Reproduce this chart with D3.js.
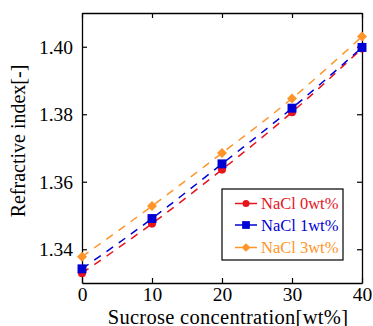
<!DOCTYPE html>
<html>
<head>
<meta charset="utf-8">
<script src="https://cdn.jsdelivr.net/npm/d3@7"></script>
<style>
  body { margin: 0; background: #fff; }
</style>
</head>
<body>
<svg id="chart" width="373" height="326"></svg>
<script>
// sucrose concentration [wt%]
const sucrose = [0, 10, 20, 30, 40];
const nacl0 = [1.3329, 1.3476, 1.3636, 1.3806, 1.3995];
const nacl1 = [1.3342, 1.3491, 1.3653, 1.3818, 1.3998];
const nacl3 = [1.3378, 1.3528, 1.3685, 1.3847, 1.4030];
const seriesNames = ['NaCl 0wt%', 'NaCl 1wt%', 'NaCl 3wt%'];
const xTicks = [0, 10, 20, 30, 40];
const yTicks = [1.34, 1.36, 1.38, 1.40];

const width = 373;
const height = 326;
const margin = {top: 13, right: 11, bottom: 43, left: 82};
const serif = '"Liberation Serif", serif';

const colors = ['#e8141c', '#0000d4', '#ff9428'];
const symbols = [d3.symbolCircle, d3.symbolSquare, d3.symbolSquare];
const symSize = [52, 80, 50];
const symRotate = [0, 0, 45];

const svg = d3.select('#chart');

const x = d3.scaleLinear()
  .domain([0, 40])
  .range([margin.left, width - margin.right]);

const y = d3.scaleLinear()
  .domain([1.33, 1.41])
  .range([height - margin.bottom, margin.top]);

const series = [nacl0, nacl1, nacl3].map((vals, i) => ({
  name: seriesNames[i],
  color: colors[i],
  symbol: symbols[i],
  size: symSize[i],
  rot: symRotate[i],
  values: vals.map((v, j) => ({x: sucrose[j], y: v}))
}));

// axes (ticks pointing inward, box on all sides)
const tickLen = 5;
svg.append('g')
  .attr('transform', `translate(0,${height - margin.bottom})`)
  .call(d3.axisBottom(x).tickValues(xTicks).tickSize(-tickLen).tickPadding(4).tickSizeOuter(0));

svg.append('g')
  .attr('transform', `translate(0,${margin.top})`)
  .call(d3.axisTop(x).tickValues(xTicks).tickSize(-tickLen).tickFormat('').tickSizeOuter(0));

svg.append('g')
  .attr('transform', `translate(${margin.left},0)`)
  .call(d3.axisLeft(y).tickValues(yTicks).tickFormat(d3.format('.2f')).tickSize(-tickLen).tickPadding(9).tickSizeOuter(0));

svg.append('g')
  .attr('transform', `translate(${width - margin.right},0)`)
  .call(d3.axisRight(y).tickValues(yTicks).tickFormat('').tickSize(-tickLen).tickSizeOuter(0));

svg.selectAll('.tick text')
  .attr('fill', '#000')
  .style('font-family', serif)
  .style('font-size', '19.5px');
svg.selectAll('.domain').attr('stroke', '#000').attr('stroke-width', 1.3);
svg.selectAll('.tick line').attr('stroke', '#000').attr('stroke-width', 1.2);

// dashed lines
const line = d3.line()
  .x(d => x(d.x))
  .y(d => y(d.y))
  .curve(d3.curveNatural);

svg.append('g').selectAll('path')
  .data(series)
  .join('path')
  .attr('d', d => line(d.values))
  .attr('fill', 'none')
  .attr('stroke', d => d.color)
  .attr('stroke-width', 1.5)
  .attr('stroke-dasharray', '8,7');

// markers
series.forEach(s => {
  svg.append('g').selectAll('path')
    .data(s.values)
    .join('path')
    .attr('transform', d => `translate(${x(d.x)},${y(d.y)}) rotate(${s.rot})`)
    .attr('d', d3.symbol().type(s.symbol).size(s.size))
    .attr('fill', s.color);
});

// legend
const legend = svg.append('g');
legend.append('rect')
  .attr('x', 222).attr('y', 189)
  .attr('width', 121).attr('height', 71)
  .attr('fill', '#fff').attr('stroke', '#000').attr('stroke-width', 1.2);

const rowY = [203.5, 225, 247.5];
series.forEach((s, i) => {
  const g = legend.append('g').attr('transform', `translate(0,${rowY[i]})`);
  g.append('line')
    .attr('x1', 235).attr('x2', 257)
    .attr('stroke', s.color).attr('stroke-width', 1.5);
  g.append('path')
    .attr('transform', `translate(246,0) rotate(${s.rot})`)
    .attr('d', d3.symbol().type(s.symbol).size(s.size * 0.75))
    .attr('fill', s.color);
  g.append('text')
    .attr('x', 261).attr('y', 5.5)
    .attr('fill', s.color)
    .style('font-family', serif)
    .style('font-size', '16.5px')
    .text(s.name);
});

// axis titles
svg.append('text')
  .attr('x', 228).attr('y', 323.5)
  .attr('text-anchor', 'middle')
  .style('font-family', serif)
  .style('font-size', '20.5px')
  .style('letter-spacing', '0.3px')
  .text('Sucrose concentration[wt%]');

svg.append('text')
  .attr('transform', 'translate(25,141) rotate(-90)')
  .attr('text-anchor', 'middle')
  .style('font-family', serif)
  .style('font-size', '20px')
  .text('Refractive index[-]');
</script>
</body>
</html>
